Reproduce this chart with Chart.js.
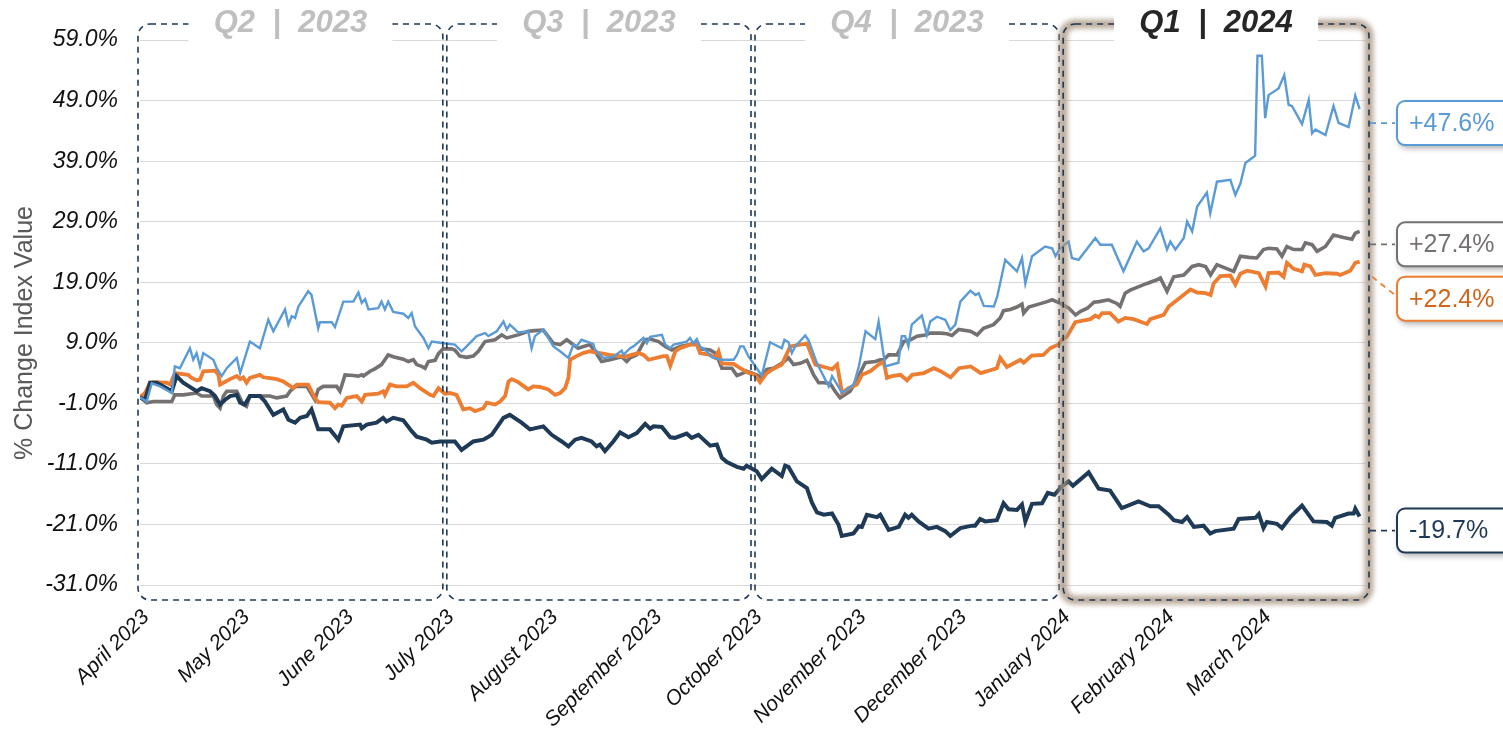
<!DOCTYPE html>
<html lang="en">
<head>
<meta charset="UTF-8">
<title>% Change Index Value</title>
<script src="https://cdn.jsdelivr.net/npm/chart.js"></script>
<style>
  body { margin: 0; background: #fff; }
  #wrap { width: 1503px; height: 730px; }
</style>
</head>
<body>
<div id="wrap"><canvas id="indexChart" width="1503" height="730"></canvas></div>
<script>
// x values are days counted from 1 April 2023
const monthDays = [0, 30, 61, 91, 122, 153, 183, 214, 244, 275, 306, 335];
const monthLabels = ['April 2023', 'May 2023', 'June 2023', 'July 2023', 'August 2023', 'September 2023',
  'October 2023', 'November 2023', 'December 2023', 'January 2024', 'February 2024', 'March 2024'];
const yTicks = [-31, -21, -11, -1, 9, 19, 29, 39, 49, 59];

const quarterLabels = [['Q2', '2023'], ['Q3', '2023'], ['Q4', '2023'], ['Q1', '2024']];
const quarterStarts = [0, 91, 183, 275];
const quarterEnds = [91, 183, 275, 366];
const endLabels = ['+47.6%', '-19.7%', '+22.4%', '+27.4%'];

const blueSeries = [[0,0],[2,-0.7],[3.5,2.3],[6,1.8],[9.5,0.7],[10.4,5.1],[11.9,4.8],[14.9,8.1],[15.9,6.2],[16.9,7.3],[17.9,5.1],[18.9,7.3],[21.9,6.2],[22.9,4.8],[24.4,3.5],[25.9,4.8],[28.9,6.5],[29.9,4.0],[32.8,9.2],[35.8,8.1],[38.3,12.8],[39.8,10.9],[43.3,14.5],[44.3,12.0],[45.3,13.4],[46.3,13.1],[47.3,15.0],[50.2,17.5],[51.2,16.9],[53.2,11.4],[53.7,12.4],[57.2,12.4],[58.2,11.6],[60.7,15.8],[63.7,15.8],[65.2,17.3],[66.2,15.6],[67.2,16.2],[68.2,14.5],[71.1,14.7],[72.1,15.8],[73.1,14.5],[74.1,15.8],[75.6,14.1],[78.6,13.8],[80.1,13.1],[81.1,13.9],[82.1,11.7],[84.6,9.8],[86.1,8.1],[87.1,9.2],[89.6,9.0],[94,8.7],[96,7.6],[97.5,8.4],[100.5,10.1],[103,10.6],[104,10.1],[106.5,10.9],[108.5,12.5],[109.5,11.2],[110.4,12.0],[112.9,10.7],[115.9,10.9],[116.9,8.1],[117.9,10.1],[120.4,11.2],[123.4,8.4],[125.4,7.6],[127.9,6.5],[129.4,8.7],[130.3,8.4],[131.8,9.5],[135.3,8.8],[135.8,7.9],[138.3,6.5],[141.3,6.7],[143.8,7.7],[144.3,7.0],[146.3,8.1],[147.3,8.4],[150.3,9.8],[151.3,8.9],[152.3,10.0],[155.8,10.3],[156.8,8.7],[158.3,8.1],[159.3,8.7],[163.2,9.2],[164.2,9.8],[165.2,8.9],[166.2,9.6],[167.2,8.4],[169.2,7.6],[170.7,6.6],[173.2,6.2],[177.2,6.2],[178.2,7.0],[179.2,8.4],[180.2,8.4],[181.7,6.7],[184.1,4.8],[185.6,3.6],[188.1,9.1],[191.6,8.1],[192.4,9.5],[193.6,9.1],[194.6,7.3],[195.6,8.4],[198.6,10.2],[199.6,9.4],[202.1,5.6],[205.6,1.8],[206.6,3.5],[207.6,2.6],[209.6,0.7],[213.1,2.1],[214.6,5.1],[216.6,10.9],[219.5,9.6],[220.5,12.5],[222.5,5.1],[226.4,5.7],[227.4,10.1],[228.4,10.1],[229.4,8.4],[230.4,12.0],[233.4,13.5],[234.9,10.3],[235.9,12.5],[237.9,13.3],[240.4,12.8],[241.9,11.1],[243.4,12.0],[244.9,15.8],[247.9,17.6],[249.4,16.9],[250.4,17.2],[251.9,15.1],[254.9,15.0],[255.9,16.6],[258.3,22.7],[261.8,20.8],[263.3,23.0],[264.3,18.8],[266.3,23.3],[270.2,24.9],[272.3,24.6],[273.3,23.3],[274.7,24.6],[277.2,25.7],[278.2,23.0],[280.2,22.7],[285.2,26.3],[286.7,25.2],[290.1,25.2],[293.6,20.8],[297.6,25.7],[299.6,24.1],[301.1,24.6],[304.6,27.9],[306.6,24.4],[307.6,25.7],[309.1,24.4],[311.6,26.3],[312.6,29.0],[314.1,27.4],[315.6,31.5],[318.5,33.8],[319.5,30.4],[321.5,35.6],[325.5,35.9],[327,33.4],[328.5,35.3],[330,38.7],[332.9,39.9],[333.6,56.4],[334.9,56.4],[335.9,46.1],[336.9,49.9],[339.9,51.0],[341.6,53.2],[342.9,48.3],[343.9,48.1],[346.9,45.1],[348.9,49.1],[349.9,43.6],[350.9,44.2],[353.9,43.3],[356.3,48.1],[357.8,45.3],[360.8,44.6],[362.8,49.8],[364.1,47.6]];

const greySeries = [[0,0],[2,-0.9],[4,-0.7],[9.5,-0.7],[10.4,0.4],[12.9,0.4],[16.9,0.7],[18.4,0.2],[21.9,0.2],[22.9,-1.2],[23.9,-1.8],[24.9,0.2],[25.9,1.0],[28.9,1.0],[30.8,-1.2],[31.8,-1.5],[32.8,0.2],[36.8,0.2],[38.8,0.2],[40.8,-0.1],[43.8,0.2],[44.8,1.0],[46.3,1.8],[49.8,1.8],[52.2,-0.4],[53.2,1.3],[54.7,1.8],[58.7,1.8],[59.7,1.0],[61.2,3.7],[63.7,3.6],[65.2,3.5],[66.2,3.7],[66.7,3.5],[68.7,4.3],[70.1,4.7],[72.1,5.4],[73.1,6.2],[74.1,7.0],[75.6,6.7],[78.6,6.3],[80.1,5.9],[81.6,6.2],[82.6,5.4],[84.1,5.1],[85.1,4.8],[86.1,5.9],[88.1,6.1],[89.1,7.2],[90.5,8.0],[93,8.0],[94,7.8],[95.5,6.8],[97.5,6.6],[99.5,6.8],[101,7.6],[103,9.2],[106,9.5],[108,10.3],[109.5,9.8],[112.9,10.3],[115.9,10.9],[117.9,11.0],[120.4,11.1],[123.4,8.9],[125.4,8.7],[127.4,9.5],[130.8,8.1],[134.3,8.7],[135.8,7.6],[137.8,5.9],[140.3,6.2],[143.8,6.7],[145.3,5.9],[146.3,6.5],[148.3,7.0],[150.8,9.5],[152.3,9.6],[154.8,9.2],[156.8,8.4],[158.8,7.8],[161.2,8.4],[164.2,8.7],[166.2,9.2],[167.2,8.0],[170.2,7.8],[171.7,7.3],[172.7,6.2],[173.7,4.8],[176.7,4.8],[178.2,3.6],[179.7,3.9],[181.1,4.3],[184.1,3.7],[185.6,3.2],[187.1,4.6],[189.1,4.8],[191.6,5.6],[193.6,6.5],[195.1,5.4],[197.1,5.6],[199.1,6.1],[201.1,3.7],[202.6,2.4],[204.1,2.4],[206,2.3],[207.5,1.0],[209,-0.1],[212,1.0],[214,2.9],[215.5,4.6],[216.5,5.7],[219.5,5.9],[221,6.2],[222,6.2],[223.5,7.0],[226,7.0],[227,8.1],[228,9.2],[230,9.5],[232,10.1],[234.4,10.3],[235.9,10.6],[238.9,10.6],[240.9,10.5],[242.4,10.2],[244.4,11.2],[247.9,10.9],[249.9,10.3],[251.8,11.4],[254.8,12.0],[256.8,13.1],[257.8,14.3],[259.8,14.5],[261.8,14.9],[263.3,15.4],[263.8,13.9],[265.3,14.9],[267.8,15.3],[270.8,15.8],[272.3,16.1],[274.8,15.5],[277.3,14.7],[279.3,13.6],[280.8,14.2],[282.8,14.7],[284.8,15.7],[286.3,15.8],[289.1,16.1],[291.6,15.5],[292.6,15.0],[294.1,17.2],[295.6,17.7],[300.6,18.8],[303.6,19.4],[304.6,19.7],[306.6,17.5],[308.6,19.9],[311.6,20.2],[314.1,21.6],[316.1,21.9],[318.1,21.6],[319.6,20.2],[321.5,21.9],[326.5,20.8],[328.5,23.3],[331,23.1],[333.4,23.0],[335.4,24.4],[336.9,24.6],[339.4,24.5],[340.9,23.3],[342.4,24.9],[344.4,24.4],[346.9,24.4],[347.9,25.5],[349.9,25.2],[351.4,24.1],[353.9,24.9],[356.3,26.8],[359.3,26.4],[361.8,26.1],[362.8,27.1],[364.1,27.4]];

const orangeSeries = [[0,0],[1.5,0.7],[3,2.4],[4,2.5],[8,2.4],[9,2.1],[10.4,4.0],[14.4,3.7],[15.4,3.2],[16.9,2.8],[17.9,2.9],[18.9,4.3],[22.4,4.4],[23.4,3.7],[23.9,2.1],[24.9,2.4],[26.9,3.0],[28.9,3.5],[29.9,3.0],[30.8,3.3],[31.8,2.4],[32.8,3.2],[35.8,3.7],[36.8,3.3],[38.3,3.2],[40.8,3.0],[42.8,2.6],[44.8,1.9],[45.8,1.5],[46.8,2.1],[50.2,2.1],[52.2,-0.1],[53.2,-0.8],[56.7,-0.9],[58.2,-1.8],[59.2,-1.2],[60.2,-1.4],[61.7,-0.1],[64.7,0.2],[66.2,-0.7],[67.2,0.4],[71.1,0.6],[72.6,1.0],[73.1,0.4],[74.6,2.1],[76.6,1.8],[79.6,1.8],[81.6,2.4],[83.6,1.5],[86.6,0.4],[87.6,0.2],[89.1,1.5],[91,0.6],[92.5,0.7],[94.5,0.4],[96.5,-2.0],[98.5,-1.8],[100,-2.3],[102.5,-1.8],[103.5,-0.9],[106,-1.2],[107.5,-0.7],[109,0.2],[110,2.6],[111,3.0],[112.9,2.5],[115.9,1.3],[117.4,1.8],[119.4,1.7],[121.9,1.3],[123.9,0.4],[125.4,0.7],[126.9,1.5],[127.9,3.2],[128.4,6.2],[130.3,6.8],[132.3,7.3],[134.3,7.6],[137.3,7.3],[140.3,7.0],[143.3,6.8],[144.8,6.7],[148.8,7.3],[150.3,7.0],[151.8,6.2],[156.3,6.8],[157.3,6.8],[158.3,5.2],[159.8,7.6],[161.2,8.1],[164.2,8.7],[166.2,8.7],[167.2,7.3],[170.2,7.0],[171.7,6.5],[172.7,7.6],[173.7,5.6],[177.2,5.5],[179.2,4.8],[181.7,4.0],[183.6,3.7],[185.1,2.5],[187.1,4.0],[189.1,4.7],[191.6,5.4],[194.1,8.4],[197.1,8.7],[199.1,8.9],[201.6,5.4],[205.6,4.8],[206.6,4.6],[208.1,5.4],[209.6,0.7],[211.5,1.5],[214,2.1],[215.5,3.7],[218,4.3],[220.5,5.4],[222,5.9],[223,3.2],[224.5,3.5],[227,3.7],[229,2.8],[230.5,3.7],[234,4.0],[237,4.8],[239,4.3],[242,3.3],[244.5,4.8],[248,5.1],[251,4.0],[255.8,4.8],[256.8,6.5],[258.8,5.0],[262.8,6.2],[263.8,5.7],[266.2,6.9],[269.7,7.0],[271.7,8.1],[274.2,8.7],[275.2,9.5],[276.7,10.0],[279.2,12.4],[283.7,12.9],[285.2,13.5],[286.2,13.2],[287.2,13.9],[289.6,13.9],[292.1,12.5],[294.1,13.1],[296.6,12.9],[299.1,12.4],[300.6,12.1],[301.6,12.9],[305.6,13.6],[307.1,15.0],[308.1,15.4],[313.6,17.8],[315.6,17.3],[318.1,17.2],[319.6,16.9],[320.5,18.8],[322.5,20.0],[325.5,20.1],[327,18.6],[328.5,20.4],[330.5,20.9],[334,20.5],[336,18.3],[336.9,20.5],[339.9,20.6],[341.4,19.9],[342.4,22.2],[344.4,21.2],[346.9,20.8],[347.6,21.9],[349.4,21.6],[350.9,20.2],[353.9,20.5],[357.3,20.4],[358.3,20.2],[361.3,20.9],[362.8,22.2],[364.1,22.4]];

const navySeries = [[0,0],[1.5,-0.4],[3,2.4],[5,2.4],[7,1.8],[9.5,1.0],[10.9,3.5],[12.9,2.4],[16.9,1.0],[18.4,1.5],[20.9,1.0],[22.4,0.2],[23.9,-1.2],[25.4,-0.4],[26.9,0.2],[28.9,0.4],[29.9,-0.9],[31.3,-1.2],[32.8,0.2],[35.8,0.2],[37.3,-0.7],[39.8,-2.9],[42.8,-2.0],[44.3,-3.7],[46.3,-4.2],[47.8,-3.4],[49.8,-3.1],[51.2,-2.0],[53.2,-5.3],[56.7,-5.3],[59.2,-7.0],[60.7,-4.8],[65.7,-4.5],[66.2,-5.1],[67.7,-4.5],[70.6,-4.2],[72.6,-3.4],[73.6,-4.0],[75.6,-3.4],[78.6,-3.8],[81.1,-5.6],[82.6,-6.5],[85.6,-7.0],[87.1,-7.5],[89.6,-7.3],[94,-7.3],[96,-8.7],[99.5,-7.3],[102.5,-7.0],[103.5,-6.7],[105,-6.2],[108.5,-3.4],[110.4,-2.9],[113.9,-4.2],[116.4,-5.3],[120.4,-4.8],[122.9,-6.2],[125.9,-7.3],[127.9,-8.1],[129.9,-7.0],[131.8,-6.7],[134.8,-7.3],[136.3,-8.1],[137.3,-7.8],[138.8,-8.9],[141.3,-7.3],[143.3,-5.8],[145.8,-6.6],[148.3,-5.9],[150.8,-4.4],[152.3,-5.2],[153.3,-4.8],[155.8,-4.9],[158.3,-6.6],[159.7,-6.7],[163.2,-6.0],[164.7,-6.7],[166.7,-6.2],[170.2,-8.0],[172.2,-7.8],[173.7,-10.0],[175.2,-10.7],[178.2,-11.5],[180.2,-11.8],[181.1,-11.3],[184.1,-12.2],[185.6,-13.5],[188.6,-11.8],[191.6,-13.0],[192.6,-11.3],[193.6,-11.5],[196.1,-13.9],[199.1,-15.0],[200.6,-17.4],[202.1,-19.0],[204.1,-19.4],[206.6,-19.2],[208.5,-21.0],[209.5,-22.9],[213,-22.5],[214.6,-21.3],[215.5,-21.4],[217,-19.4],[220,-19.8],[221,-19.4],[223.5,-21.9],[226.5,-21.4],[228.4,-19.4],[229.4,-19.9],[230.4,-19.4],[232.4,-20.5],[235.4,-21.7],[237.9,-21.4],[240.4,-22.1],[241.9,-22.9],[244.9,-21.6],[248.4,-21.2],[249.3,-21.2],[250.8,-20.1],[252.3,-20.5],[255.8,-20.3],[257.8,-17.5],[259.3,-18.5],[261.8,-18.6],[263.3,-17.7],[264.3,-20.5],[266.3,-17.6],[269.3,-17.5],[271,-15.8],[273,-16.1],[275.2,-14.7],[277.2,-13.9],[278.5,-14.6],[283.2,-12.4],[286.2,-15.1],[289.6,-15.4],[293.1,-18.3],[298.1,-17.2],[301.6,-18.0],[304.1,-18.0],[307.1,-19.4],[308.6,-20.3],[311.1,-20.6],[312.6,-19.8],[314.6,-21.4],[317.5,-21.2],[319.5,-22.5],[321,-22.1],[326.5,-21.7],[328,-20.1],[333,-19.9],[334,-19.3],[335.4,-21.6],[336.4,-20.6],[339.4,-20.9],[340.9,-21.6],[343.4,-19.8],[346.9,-17.9],[350.3,-20.5],[354.3,-20.6],[355.8,-21.2],[356.8,-19.9],[360.8,-19.2],[362.3,-19.2],[362.8,-18.4],[364.1,-19.7]];

const NAVY = '#1F3A56';
const seriesColors = ['#5B9BD5', NAVY, '#ED7D31', '#767171'];
const labelTextColors = ['#5B9BD5', NAVY, '#D0661E', '#767171'];
const lineWidths = [2.4, 4, 3.8, 3.6];
// how far each end label sits below its line's last point (px)
const labelShift = [14, 14, 37, 13];

Chart.defaults.font.family = '"Liberation Sans", Arial, sans-serif';

function toPoints(series) {
  return series.map(p => ({ x: p[0], y: p[1] }));
}

const overlayPlugin = {
  id: 'overlay',
  afterDatasetsDraw(chart) {
    const ctx = chart.ctx;
    const x = chart.scales.x;
    const area = chart.chartArea;
    const top = area.top - 16;
    const bottom = area.bottom + 15;

    quarterStarts.forEach((start, i) => {
      const left = x.getPixelForValue(start) + (i === 0 ? -2 : 2);
      const right = x.getPixelForValue(quarterEnds[i]) + (i === 3 ? 3 : -2);
      ctx.save();
      if (i === 3) {
        // soft taupe glow around the current quarter
        ctx.filter = 'blur(2.5px)';
        ctx.strokeStyle = 'rgba(170,150,130,0.8)';
        ctx.lineWidth = 9;
        ctx.beginPath();
        ctx.roundRect(left, top, right - left, bottom - top, 12);
        ctx.stroke();
        ctx.filter = 'none';
      }
      ctx.strokeStyle = NAVY;
      ctx.lineWidth = 1.6;
      ctx.setLineDash([6, 5]);
      ctx.beginPath();
      ctx.roundRect(left, top, right - left, bottom - top, 12);
      ctx.stroke();
      ctx.restore();

      // label sitting on the top edge
      const cx = (left + right) / 2;
      ctx.save();
      ctx.fillStyle = '#fff';
      ctx.fillRect(cx - 102, 0, 204, area.top + 1.5);
      ctx.fillStyle = i === 3 ? '#262626' : '#BFBFBF';
      ctx.font = 'italic bold 31px "Liberation Sans", Arial, sans-serif';
      ctx.textAlign = 'center';
      ctx.textBaseline = 'middle';
      ctx.fillText(quarterLabels[i][0] + '  |  ' + quarterLabels[i][1], cx, 23);
      ctx.restore();
    });
  },
  afterDraw(chart) {
    const ctx = chart.ctx;
    const area = chart.chartArea;
    const y = chart.scales.y;

    // y axis title
    ctx.save();
    ctx.translate(25, 333);
    ctx.rotate(-Math.PI / 2);
    ctx.fillStyle = '#595959';
    ctx.font = '25px "Liberation Sans", Arial, sans-serif';
    ctx.textAlign = 'center';
    ctx.textBaseline = 'middle';
    ctx.fillText('% Change Index Value', 0, 0);
    ctx.restore();

    // end-of-line value labels
    chart.data.datasets.forEach((ds, i) => {
      const last = ds.data[ds.data.length - 1];
      const pointY = y.getPixelForValue(last.y);
      const ly = pointY + labelShift[i];
      const boxX = area.right + 31;
      ctx.save();
      ctx.strokeStyle = seriesColors[i];
      ctx.lineWidth = 1.8;
      ctx.setLineDash([6, 5]);
      ctx.beginPath();
      if (i === 2) {
        ctx.moveTo(area.right + 6, ly - 22);
        ctx.lineTo(boxX, ly - 2);
      } else {
        ctx.moveTo(area.right + 4, ly);
        ctx.lineTo(boxX - 2, ly);
      }
      ctx.stroke();
      ctx.setLineDash([]);
      ctx.shadowColor = 'rgba(0,0,0,0.35)';
      ctx.shadowBlur = 6;
      ctx.shadowOffsetX = 2;
      ctx.shadowOffsetY = 3;
      ctx.fillStyle = '#fff';
      ctx.beginPath();
      ctx.roundRect(boxX, ly - 22, 118, 44, 8);
      ctx.fill();
      ctx.shadowColor = 'transparent';
      ctx.lineWidth = 2;
      ctx.strokeStyle = seriesColors[i];
      ctx.stroke();
      ctx.fillStyle = labelTextColors[i];
      ctx.font = '25px "Liberation Sans", Arial, sans-serif';
      ctx.textBaseline = 'middle';
      ctx.fillText(endLabels[i], boxX + 12, ly + 1);
      ctx.restore();
    });
  }
};

new Chart(document.getElementById('indexChart'), {
  type: 'line',
  data: {
    datasets: [blueSeries, navySeries, orangeSeries, greySeries].map((s, i) => ({
      data: toPoints(s),
      borderColor: seriesColors[i],
      borderWidth: lineWidths[i],
      pointRadius: 0,
      tension: 0,
      fill: false
    }))
  },
  options: {
    responsive: false,
    animation: false,
    layout: { padding: { top: 40, right: 137, left: 0, bottom: 0 } },
    plugins: { legend: { display: false }, tooltip: { enabled: false } },
    scales: {
      x: {
        type: 'linear',
        min: 0,
        max: 366,
        afterFit: s => { s.height = 145; },
        afterBuildTicks: s => { s.ticks = monthDays.map(v => ({ value: v })); },
        grid: { display: false, drawTicks: false },
        border: { display: false },
        ticks: {
          autoSkip: false,
          minRotation: 45,
          maxRotation: 45,
          padding: 20,
          labelOffset: 6,
          color: '#111',
          font: { size: 21, style: 'italic' },
          callback: (v, idx) => monthLabels[idx]
        }
      },
      y: {
        min: -31,
        max: 59,
        afterFit: s => { s.width = 140; },
        afterBuildTicks: s => { s.ticks = yTicks.map(v => ({ value: v })); },
        grid: { color: '#D9D9D9', lineWidth: 1, drawTicks: false },
        border: { display: false },
        ticks: {
          padding: 22,
          color: '#111',
          font: { size: 23, style: 'italic' },
          callback: v => v.toFixed(1) + '%'
        }
      }
    }
  },
  plugins: [overlayPlugin]
});
</script>
</body>
</html>
